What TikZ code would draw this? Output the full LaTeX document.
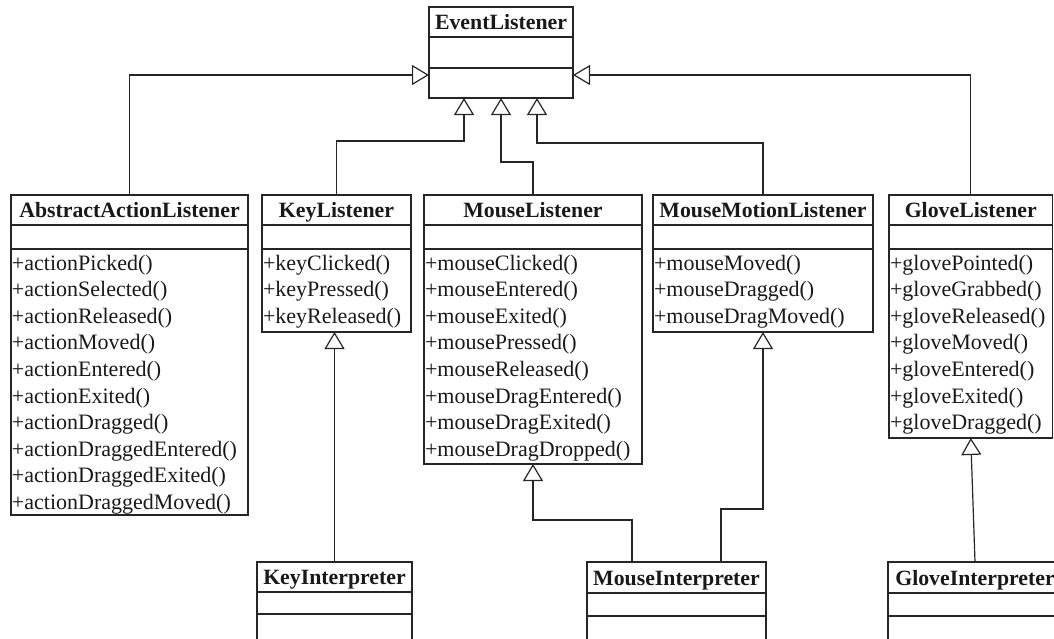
\documentclass[tikz,border=0pt]{standalone}
\usepackage{fontspec}
\setmainfont{Liberation Serif}
\usetikzlibrary{arrows.meta,fit,calc}
\tikzset{
  ln/.style={line width=1.2pt, draw=black!85},
  box/.style={ln, rectangle, inner sep=0pt, outer sep=0pt, fill=white},
  ttl/.style={font=\fontsize{21.8}{26}\selectfont\bfseries, inner sep=0pt, anchor=base, text=black!90},
  itm/.style={font=\fontsize{22}{26}\selectfont, inner sep=0pt, anchor=base west, text=black!90},
  inh/.style={ln, line join=miter, -{Triangle[open, length=17pt, width=20pt, fill=white]}},
}
\newcommand{\umlclass}[8]{%
  \node[box, fit={(#2,#3) (#4,#5)}] (#1) {};
  \draw[ln] (#2,#6) -- (#4,#6) (#2,#7) -- (#4,#7);
  \node[ttl] (#1-title) at ({(#2+#4)/2},{(#3+#6)/2+7.5}) {#8};
}
\newcommand{\umlitems}[3]{%
  \foreach \t [count=\i] in {#3} \node[itm] (#1-i\i) at ({#2+0.8},{270+(\i-1)*26.6}) {\t};
}
\begin{document}
\begin{tikzpicture}[x=1pt,y=-1pt]
\useasboundingbox (0,0) rectangle (1054,638);
\clip (0,0) rectangle (1054,638);

\umlclass{el}{429}{7}{573}{98}{37}{68}{EventListener}
\umlclass{aal}{11}{195}{248}{515}{225}{249}{AbstractActionListener}
\umlclass{kl}{262}{195}{411}{332}{225}{249}{KeyListener}
\umlclass{ml}{424}{195}{642}{464}{225}{249}{MouseListener}
\umlclass{mml}{653}{195}{873}{332}{225}{249}{MouseMotionListener}
\umlclass{gl}{889}{195}{1052.5}{438}{225}{249}{GloveListener}
\umlclass{ki}{257}{562}{412}{660}{592}{614}{KeyInterpreter}
\umlclass{mi}{587}{562}{766}{660}{593}{616}{MouseInterpreter}
\umlclass{gi}{888}{562}{1062}{660}{593}{616}{GloveInterpreter}

\umlitems{aal}{11}{+actionPicked(),+actionSelected(),+actionReleased(),+actionMoved(),+actionEntered(),+actionExited(),+actionDragged(),+actionDraggedEntered(),+actionDraggedExited(),+actionDraggedMoved()}
\umlitems{kl}{262}{+keyClicked(),+keyPressed(),+keyReleased()}
\umlitems{ml}{424}{+mouseClicked(),+mouseEntered(),+mouseExited(),+mousePressed(),+mouseReleased(),+mouseDragEntered(),+mouseDragExited(),+mouseDragDropped()}
\umlitems{mml}{653}{+mouseMoved(),+mouseDragged(),+mouseDragMoved()}
\umlitems{gl}{889}{+glovePointed(),+gloveGrabbed(),+gloveReleased(),+gloveMoved(),+gloveEntered(),+gloveExited(),+gloveDragged()}

\coordinate (elL) at (429,75);
\coordinate (elR) at (573,75);
\coordinate (elB1) at (464,98);
\coordinate (elB2) at (501,98);
\coordinate (elB3) at (537,98);
\coordinate (miA) at (632,562);
\coordinate (miB) at (721,562);

\draw[inh] (aal.north) |- (elL);
\draw[inh] (gl.north) |- (elR);
\draw[inh] (kl.north) -- ++(0,-54) -| (elB1);
\draw[inh] (ml.north) -- ++(0,-33) -| (elB2);
\draw[inh] (mml.north) -- ++(0,-52) -| (elB3);
\draw[inh] (ki.north) -- (ki.north |- kl.south);
\draw[inh] (miA) -- ++(0,-42) -| (ml.south);
\draw[inh] (miB) -- ++(0,-53) -| (mml.south);
\draw[inh] (gi.north) -- (gl.south);
\end{tikzpicture}
\end{document}
